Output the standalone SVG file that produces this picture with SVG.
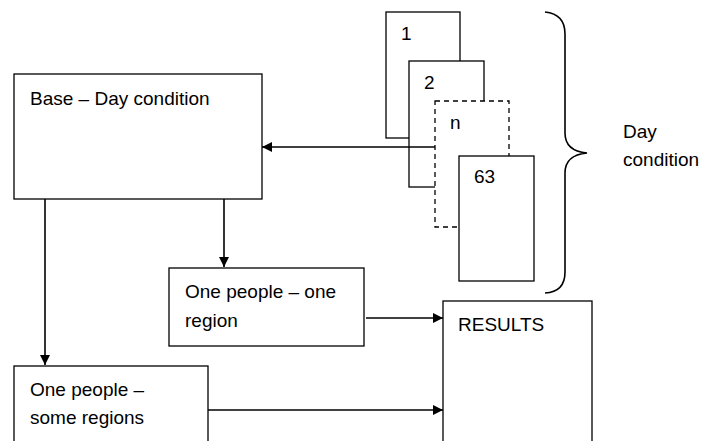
<svg xmlns="http://www.w3.org/2000/svg" width="709" height="441" viewBox="0 0 709 441">
<defs>
<style>
.box{fill:#fff;stroke:#000;stroke-width:1.3}
.dash{fill:#fff;stroke:#000;stroke-width:1.3;stroke-dasharray:5 4}
.t{font-family:"Liberation Sans",Arial,sans-serif;font-size:19px;fill:#000}
.c{fill:none;stroke:#000;stroke-width:1.6}
</style>
<marker id="ah" viewBox="0 0 10 10" refX="10" refY="5" markerWidth="10" markerHeight="10" markerUnits="userSpaceOnUse" orient="auto">
<path d="M0,0 L10,5 L0,10 z" fill="#000"/>
</marker>
</defs>
<rect width="709" height="441" fill="#fff"/>
<g id="day1"><rect class="box" x="386" y="12" width="74" height="126"/><text class="t" x="401" y="40">1</text></g>
<g id="day2"><rect class="box" x="409" y="61" width="75" height="126"/><text class="t" x="424" y="89">2</text></g>
<g id="dayn"><rect class="dash" x="435" y="101" width="74" height="126"/><text class="t" x="450" y="129">n</text></g>
<g id="day63"><rect class="box" x="459" y="156" width="75" height="125"/><text class="t" x="474" y="183">63</text></g>
<g id="base"><rect class="box" x="14" y="74" width="248" height="125"/><text class="t" x="30" y="105">Base – Day condition</text></g>
<g id="oneregion"><rect class="box" x="169" y="268" width="195" height="78"/><text class="t" x="185" y="298">One people – one</text><text class="t" x="185" y="327">region</text></g>
<g id="someregions"><rect class="box" x="14" y="366" width="194" height="90"/><text class="t" x="30" y="396">One people –</text><text class="t" x="30" y="424">some regions</text></g>
<g id="results"><rect class="box" x="443" y="301" width="149" height="155"/><text class="t" x="458" y="331">RESULTS</text></g>
<g id="brace"><path class="c" d="M545,12 Q565,14 565,34 L565,133 Q565,151 587,153 Q565,155 565,173 L565,272 Q565,292 545,293" stroke-width="1.4"/><text class="t" x="623" y="138">Day</text><text class="t" x="623" y="166">condition</text></g>
<g id="connectors">
<line class="c" x1="435" y1="147" x2="262" y2="147" marker-end="url(#ah)"/>
<line class="c" x1="45" y1="199" x2="45" y2="365" marker-end="url(#ah)"/>
<line class="c" x1="224" y1="199" x2="224" y2="267" marker-end="url(#ah)"/>
<line class="c" x1="366" y1="318" x2="443" y2="318" marker-end="url(#ah)"/>
<line class="c" x1="208" y1="410" x2="443" y2="410" marker-end="url(#ah)"/>
</g>
</svg>
